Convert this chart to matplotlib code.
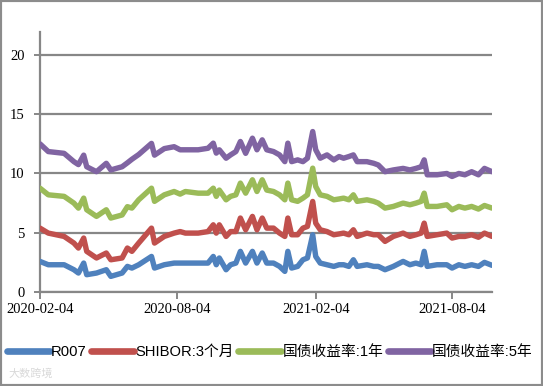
import matplotlib
matplotlib.use("Agg")
import matplotlib.pyplot as plt
import matplotlib.dates as mdates
from matplotlib.patches import Rectangle
from matplotlib.lines import Line2D
from matplotlib.font_manager import FontProperties
import numpy as np
import pandas as pd

dates = ["2020-02-04", "2020-02-15", "2020-03-07", "2020-03-20", "2020-03-26", "2020-04-02",
         "2020-04-06", "2020-04-19", "2020-05-02", "2020-05-08", "2020-05-23", "2020-05-30",
         "2020-06-05", "2020-06-14", "2020-07-01", "2020-07-05", "2020-07-18", "2020-07-31",
         "2020-08-08", "2020-08-15", "2020-09-01", "2020-09-14", "2020-09-21", "2020-09-25",
         "2020-09-29", "2020-10-08", "2020-10-14", "2020-10-21", "2020-10-27", "2020-11-03",
         "2020-11-12", "2020-11-18", "2020-11-25", "2020-12-01", "2020-12-10", "2020-12-18",
         "2020-12-25", "2020-12-29", "2021-01-03", "2021-01-11", "2021-01-18", "2021-01-24",
         "2021-01-31", "2021-02-04", "2021-02-10", "2021-02-19", "2021-02-28", "2021-03-07",
         "2021-03-13", "2021-03-20", "2021-03-26", "2021-03-31", "2021-04-13", "2021-04-22",
         "2021-04-28", "2021-05-07", "2021-05-18", "2021-05-31", "2021-06-09", "2021-06-17",
         "2021-06-24", "2021-06-28", "2021-07-02", "2021-07-15", "2021-07-28", "2021-08-04",
         "2021-08-13", "2021-08-21", "2021-08-30", "2021-09-08", "2021-09-16", "2021-09-26"]

r007 = [2.58, 2.30, 2.30, 1.88, 1.60, 2.44, 1.46, 1.60, 1.88, 1.32, 1.60, 2.16,
        2.02, 2.30, 3.00, 2.02, 2.30, 2.44, 2.44, 2.44, 2.44, 2.44, 3.00, 2.30,
        2.87, 1.88, 2.30, 2.44, 3.43, 2.44, 3.43, 2.44, 3.29, 2.44, 2.44, 2.16,
        1.74, 3.43, 2.02, 2.16, 2.72, 2.87, 4.83, 3.00, 2.44, 2.30, 2.16, 2.30,
        2.30, 2.16, 2.72, 2.16, 2.30, 2.16, 2.16, 1.88, 2.16, 2.58, 2.30, 2.44,
        2.30, 3.43, 2.16, 2.30, 2.30, 2.02, 2.30, 2.16, 2.30, 2.16, 2.50, 2.25]

shibor_3m = [2.81, 2.67, 2.39, 2.25, 2.11, 2.11, 1.97, 1.27, 1.41, 1.40, 1.27, 1.55,
             1.41, 1.83, 2.39, 2.11, 2.39, 2.53, 2.66, 2.53, 2.53, 2.66, 2.67, 2.67,
             2.80, 2.81, 2.80, 2.66, 2.81, 2.81, 2.95, 2.81, 2.95, 2.95, 2.95, 2.81,
             2.95, 2.81, 2.81, 2.67, 2.67, 2.66, 2.81, 2.81, 2.81, 2.80, 2.67, 2.60,
             2.67, 2.67, 2.53, 2.53, 2.67, 2.67, 2.67, 2.39, 2.53, 2.39, 2.39, 2.39,
             2.67, 2.38, 2.53, 2.53, 2.67, 2.53, 2.39, 2.53, 2.53, 2.46, 2.47, 2.44]

cgb_1y = [3.37, 3.23, 3.38, 3.37, 3.37, 3.37, 3.51, 3.51, 3.65, 3.52, 3.63, 3.49,
          3.65, 3.65, 3.37, 3.52, 3.51, 3.51, 3.16, 3.51, 3.37, 3.24, 3.09, 3.10,
          2.93, 3.09, 2.97, 3.10, 2.95, 3.09, 3.09, 3.23, 3.23, 3.21, 3.09, 3.23,
          3.09, 2.95, 2.95, 2.82, 2.53, 2.67, 2.81, 3.09, 2.95, 2.97, 2.95, 2.95,
          2.95, 2.95, 2.95, 2.96, 2.81, 2.82, 2.67, 2.81, 2.53, 2.53, 2.67, 2.67,
          2.68, 2.53, 2.53, 2.39, 2.39, 2.39, 2.53, 2.39, 2.39, 2.38, 2.33, 2.39]

cgb_5y = [3.74, 3.65, 3.63, 3.50, 3.67, 3.63, 3.63, 3.77, 3.92, 4.06, 4.07, 3.70,
          4.12, 3.82, 3.78, 3.90, 3.90, 3.78, 3.74, 3.52, 3.66, 3.79, 3.80, 3.65,
          3.40, 3.51, 3.50, 3.65, 3.51, 3.36, 3.51, 3.52, 3.37, 3.40, 3.37, 3.37,
          3.22, 3.37, 3.22, 3.50, 3.08, 3.09, 3.09, 3.10, 3.09, 3.50, 3.37, 3.58,
          3.37, 3.65, 3.37, 3.35, 3.22, 3.21, 3.22, 3.07, 3.08, 2.93, 2.94, 2.93,
          2.92, 2.81, 2.67, 2.67, 2.64, 2.81, 2.78, 2.81, 2.93, 2.89, 3.13, 3.07]

series_names = ["R007", "SHIBOR:3个月", "国债收益率:1年", "国债收益率:5年"]
tick_dates = ["2020-02-04", "2020-08-04", "2021-02-04", "2021-08-04"]
y_ticks = [0, 5, 10, 15, 20]

colors = ["#4F81BD", "#C0504D", "#9BBB59", "#8064A2"]
grey = "#878787"

W, H = 543, 386
fig = plt.figure(figsize=(W / 100, H / 100), dpi=100)
ax = fig.add_axes([40 / W, 1 - 292 / H, 452 / W, 260 / H])

x = pd.to_datetime(dates)
stack = np.cumsum(np.vstack([r007, shibor_3m, cgb_1y, cgb_5y]), axis=0)
for vals, c, name in zip(stack, colors, series_names):
    ax.plot(x, vals, color=c, lw=3.9, solid_joinstyle="round",
            solid_capstyle="round", label=name, zorder=3)

ax.set_ylim(0, 21.94)
ax.set_xlim(x[0], x[-1])
ax.set_yticks(y_ticks)
ax.set_xticks(pd.to_datetime(tick_dates))
ax.xaxis.set_major_formatter(mdates.DateFormatter("%Y-%m-%d"))

ax.grid(axis="y", color=grey, lw=1.6, zorder=1)
ax.set_axisbelow(True)
for s in ["top", "right"]:
    ax.spines[s].set_visible(False)
for s in ["left", "bottom"]:
    ax.spines[s].set_color(grey)
    ax.spines[s].set_linewidth(1.6)

serif = FontProperties(family="Liberation Serif", size=10.5)
ax.tick_params(axis="both", direction="out", color=grey, width=1.4, labelcolor="black")
ax.tick_params(axis="x", length=5, pad=3)
ax.tick_params(axis="y", length=4, pad=7)
for lab in ax.get_xticklabels() + ax.get_yticklabels():
    lab.set_fontproperties(serif)

handles = [Line2D([0], [0], color=c, lw=4.8, solid_capstyle="round") for c in colors]
fig.legend(handles, series_names, loc="center left",
           bbox_to_anchor=(7 / W, 1 - 352 / H), ncol=4, frameon=False,
           handlelength=2.9, handletextpad=0.1, columnspacing=0.3,
           borderaxespad=0, borderpad=0,
           prop=FontProperties(family=["Liberation Sans", "Noto Sans CJK SC"], size=10.6))

fig.text(8 / W, 1 - 374 / H, "大数跨境", color="#d9d9d9", fontsize=8,
         family=["Noto Sans CJK SC", "DejaVu Sans"], va="center", ha="left")

fig.add_artist(Rectangle((0, 0), 1, 1, transform=fig.transFigure, fill=False,
                         edgecolor="#8c8c8c", lw=3))

fig.savefig("out.png", dpi=100)
